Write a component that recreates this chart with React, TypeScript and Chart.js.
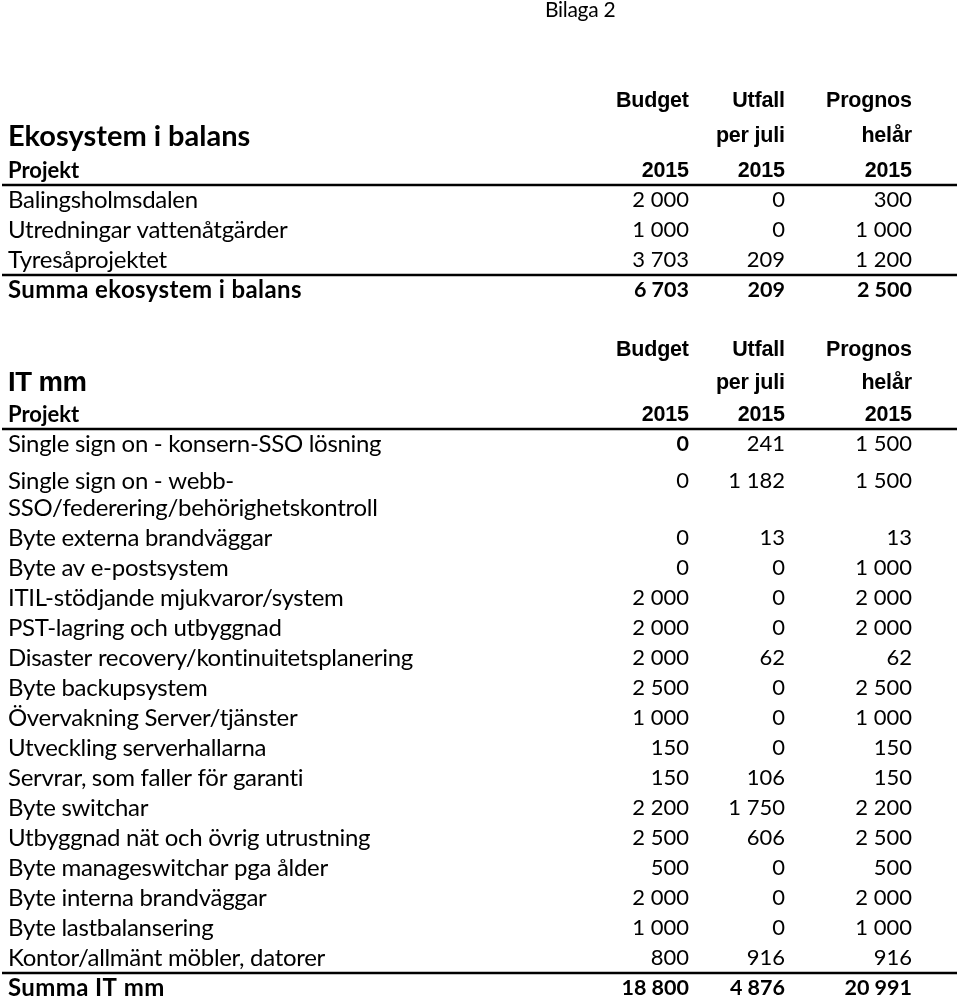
import React, { useEffect, useRef } from "react";
import { Chart, registerables } from "chart.js";

Chart.register(...registerables);

// ---------- data ----------
const noteText = "Bilaga 2";
const columnHeads = ["Budget", "Utfall", "Prognos"];
const columnSubs = ["", "per juli", "helår"];
const columnYears = ["2015", "2015", "2015"];
const projectHead = "Projekt";

const ecoTitle = "Ekosystem i balans";
const ecoProjects = ["Balingsholmsdalen", "Utredningar vattenåtgärder", "Tyresåprojektet"];
const ecoBudget = [2000, 1000, 3703];
const ecoUtfall = [0, 0, 209];
const ecoPrognos = [300, 1000, 1200];
const ecoSumLabel = "Summa ekosystem i balans";
const ecoSum = [6703, 209, 2500];

const itTitle = "IT mm";
const itProjects = [
  "Single sign on - konsern-SSO lösning",
  "Single sign on - webb-\nSSO/federering/behörighetskontroll",
  "Byte externa brandväggar",
  "Byte av e-postsystem",
  "ITIL-stödjande mjukvaror/system",
  "PST-lagring och utbyggnad",
  "Disaster recovery/kontinuitetsplanering",
  "Byte backupsystem",
  "Övervakning Server/tjänster",
  "Utveckling serverhallarna",
  "Servrar, som faller för garanti",
  "Byte switchar",
  "Utbyggnad nät och övrig utrustning",
  "Byte manageswitchar pga ålder",
  "Byte interna brandväggar",
  "Byte lastbalansering",
  "Kontor/allmänt möbler, datorer",
];
const itBudget = [0, 0, 0, 0, 2000, 2000, 2000, 2500, 1000, 150, 150, 2200, 2500, 500, 2000, 1000, 800];
const itUtfall = [241, 1182, 13, 0, 0, 0, 62, 0, 0, 0, 106, 1750, 606, 0, 0, 0, 916];
const itPrognos = [1500, 1500, 13, 1000, 2000, 2000, 62, 2500, 1000, 150, 150, 2200, 2500, 500, 2000, 1000, 916];
const itSumLabel = "Summa IT mm";
const itSum = [18800, 4876, 20991];

// ---------- layout / style ----------
const W = 960;
const H = 996;
const colLabelX = 8;
const colRightX = [689, 785, 912];
const noteX = 545;
const ruleX0 = 2;
const ruleX1 = 957;

type FontSpec = { font: string; spacing: number };
const F_BODY: FontSpec = { font: '24px "Lato"', spacing: -0.3 };
const F_NUM: FontSpec = { font: '22px "Lato"', spacing: 0 };
const F_NUM_B: FontSpec = { font: 'bold 21.5px "Lato"', spacing: 0 };
const F_SUM: FontSpec = { font: 'bold 24px "Lato"', spacing: 0.4 };
const F_PROJ: FontSpec = { font: 'bold 22px "Lato"', spacing: 0 };
const F_HEAD: FontSpec = { font: 'bold 21.5px "Liberation Sans"', spacing: -0.2 };
const F_ECO: FontSpec = { font: 'bold 29px "Lato"', spacing: 0 };
const F_IT: FontSpec = { font: 'bold 27.5px "Liberation Sans"', spacing: -0.5 };
const F_NOTE: FontSpec = { font: '21px "Lato"', spacing: -0.3 };

const kindHeight: Record<string, number> = {
  note: 20,
  gapA: 66,
  gapB: 30,
  head: 30,
  titleTall: 41,
  title: 36,
  sub: 28,
  row: 30,
  row2: 64,
  sum: 30,
};

const fmt = (v: number) => String(Math.abs(v)).replace(/\B(?=(\d{3})+(?!\d))/g, " ");

type Row = { kind: string; label?: string; vals?: number[]; titleFont?: FontSpec; title?: string; boldCols?: boolean[] };

function buildRows(): Row[] {
  const rows: Row[] = [];
  rows.push({ kind: "note" });
  rows.push({ kind: "gapA" });
  rows.push({ kind: "head" });
  rows.push({ kind: "titleTall", title: ecoTitle, titleFont: F_ECO });
  rows.push({ kind: "sub" });
  ecoProjects.forEach((p, i) =>
    rows.push({ kind: "row", label: p, vals: [ecoBudget[i], ecoUtfall[i], ecoPrognos[i]] })
  );
  rows.push({ kind: "sum", label: ecoSumLabel, vals: ecoSum });
  rows.push({ kind: "gapB" });
  rows.push({ kind: "head" });
  rows.push({ kind: "title", title: itTitle, titleFont: F_IT });
  rows.push({ kind: "sub" });
  itProjects.forEach((p, i) =>
    rows.push({
      kind: p.includes("\n") ? "row2" : "row",
      label: p,
      vals: [itBudget[i], itUtfall[i], itPrognos[i]],
      boldCols: i === 0 ? [true, false, false] : undefined,
    })
  );
  rows.push({ kind: "sum", label: itSumLabel, vals: itSum });
  return rows;
}

const tablePlugin = {
  id: "tableDraw",
  afterDraw(chart: any) {
    const { ctx, scales } = chart;
    const xs = scales.x;
    const ys = scales.y;
    const px = (v: number) => xs.getPixelForValue(v);
    const py = (v: number) => ys.getPixelForValue(v);
    const rows = buildRows();
    ctx.save();
    ctx.fillStyle = "#ffffff";
    ctx.fillRect(0, 0, chart.width, chart.height);
    ctx.fillStyle = "#000000";
    ctx.strokeStyle = "#000000";
    ctx.textBaseline = "middle";
    const setFont = (f: FontSpec) => {
      ctx.font = f.font;
      (ctx as any).letterSpacing = f.spacing + "px";
    };
    const rule = (yv: number) => {
      ctx.beginPath();
      ctx.lineWidth = 2.6;
      ctx.moveTo(px(ruleX0), py(yv));
      ctx.lineTo(px(ruleX1), py(yv));
      ctx.stroke();
    };
    const right = (t: string, col: number, yv: number, f: FontSpec) => {
      setFont(f);
      ctx.textAlign = "left";
      const w = ctx.measureText(t).width - f.spacing;
      ctx.fillText(t, px(colRightX[col]) - w, py(yv));
    };
    const left = (t: string, xv: number, yv: number, f: FontSpec) => {
      setFont(f);
      ctx.textAlign = "left";
      ctx.fillText(t, px(xv), py(yv));
    };
    let top = 0;
    for (const r of rows) {
      const h = kindHeight[r.kind];
      const c = top + h / 2;
      switch (r.kind) {
        case "note":
          left(noteText, noteX, c, F_NOTE);
          break;
        case "head":
          columnHeads.forEach((t, i) => right(t, i, c, F_HEAD));
          break;
        case "title":
        case "titleTall":
          left(r.title!, colLabelX, c, r.titleFont!);
          columnSubs.forEach((t, i) => t && right(t, i, c, F_HEAD));
          break;
        case "sub":
          left(projectHead, colLabelX, c, F_PROJ);
          columnYears.forEach((t, i) => right(t, i, c, F_HEAD));
          rule(top + h);
          break;
        case "row":
          left(r.label!, colLabelX, c, F_BODY);
          r.vals!.forEach((v, i) => right(fmt(v), i, c, r.boldCols && r.boldCols[i] ? F_NUM_B : F_NUM));
          break;
        case "row2": {
          const lines = r.label!.split("\n");
          left(lines[0], colLabelX, top + 22, F_BODY);
          left(lines[1], colLabelX, top + 49, F_BODY);
          r.vals!.forEach((v, i) => right(fmt(v), i, top + 22, F_NUM));
          break;
        }
        case "sum":
          rule(top);
          left(r.label!, colLabelX, c, F_SUM);
          r.vals!.forEach((v, i) => right(fmt(v), i, c, F_NUM_B));
          break;
      }
      top += h;
    }
    ctx.restore();
  },
};

export default function App() {
  const ref = useRef<HTMLCanvasElement | null>(null);
  useEffect(() => {
    document.body.style.margin = "0";
    document.body.style.background = "#ffffff";
    const canvas = ref.current!;
    const chart = new Chart(canvas, {
      type: "scatter",
      data: { datasets: [] },
      options: {
        animation: false,
        responsive: false,
        devicePixelRatio: 1,
        layout: { padding: 0 },
        plugins: { legend: { display: false }, tooltip: { enabled: false }, title: { display: false } },
        scales: {
          x: { type: "linear", min: 0, max: W, display: false },
          y: { type: "linear", min: 0, max: H, reverse: true, display: false },
        },
      },
      plugins: [tablePlugin],
    });
    return () => chart.destroy();
  }, []);
  return (
    <div style={{ width: W, height: H }}>
      <canvas ref={ref} width={W} height={H} style={{ display: "block" }} />
    </div>
  );
}
